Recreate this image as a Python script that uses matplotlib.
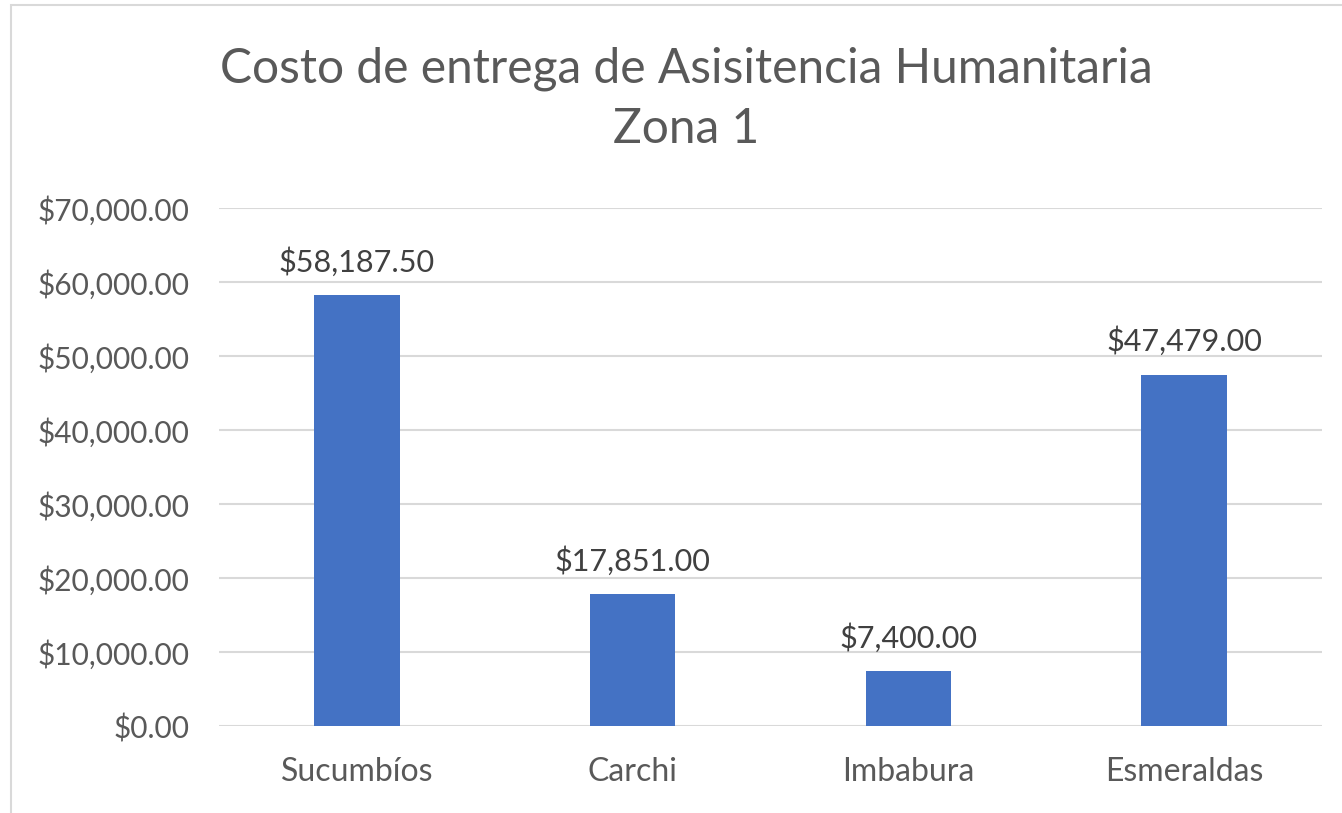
import matplotlib.pyplot as plt
from matplotlib.patches import Rectangle

provincias = ['Sucumbíos', 'Carchi', 'Imbabura', 'Esmeraldas']
costos = [58187.50, 17851.00, 7400.00, 47479.00]
ticks_y = [0, 10000, 20000, 30000, 40000, 50000, 60000, 70000]

plt.rcParams['font.family'] = ['Lato', 'DejaVu Sans']

fig = plt.figure(figsize=(13.42, 8.13), dpi=100)
ax = fig.add_axes([219 / 1342, 1 - 726 / 813, (1322 - 219) / 1342, (726 - 208) / 813])

# marco gris del área del gráfico
fig.patches.append(Rectangle((11 / 1342, -0.1), 1.2, 1 - 5 / 813 + 0.1,
                             transform=fig.transFigure, fill=False,
                             edgecolor='#D9D9D9', linewidth=1.5))

x = range(len(provincias))
barras = ax.bar(x, costos, width=0.31, color='#4472C4', zorder=3)

for b, v in zip(barras, costos):
    ax.text(b.get_x() + b.get_width() / 2, v + 2500, f'${v:,.2f}',
            ha='center', va='bottom', fontsize=22, color='#404040')

ax.set_xlim(-0.5, 3.5)
ax.set_ylim(0, 70000)
ax.set_yticks(ticks_y)
ax.set_yticklabels([f'${t:,.2f}' for t in ticks_y])
ax.set_xticks(list(x))
ax.set_xticklabels(provincias)
ax.yaxis.grid(True, color='#D9D9D9', linewidth=1.5, zorder=0)
ax.tick_params(axis='y', length=0, pad=21, labelsize=21.5, labelcolor='#595959')
ax.tick_params(axis='x', length=0, pad=22, labelsize=23, labelcolor='#595959')
for s in ax.spines.values():
    s.set_visible(False)

fig.text(686 / 1342, 1 - 99 / 813, 'Costo de entrega de Asisitencia Humanitaria\nZona 1',
         ha='center', va='center', fontsize=34.5, color='#595959', linespacing=1.45)

fig.savefig('out.png', dpi=100)
